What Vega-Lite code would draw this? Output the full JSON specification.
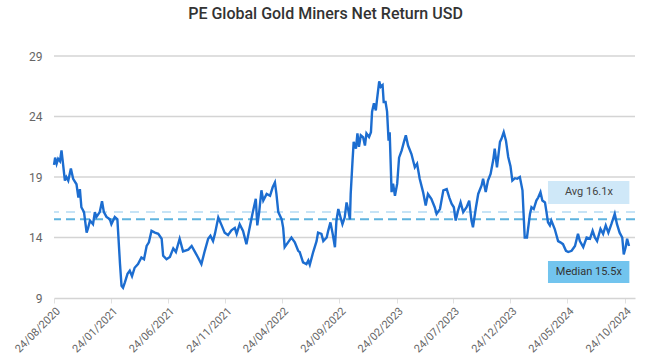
{
  "$schema": "https://vega.github.io/schema/vega-lite/v6.json",
  "width": 581,
  "height": 242,
  "autosize": "none",
  "padding": {"left": 54, "top": 56, "right": 15, "bottom": 65},
  "title": {"text": "PE Global Gold Miners Net Return USD", "fontSize": 16, "fontWeight": 500, "color": "#333333", "font": "Roboto", "offset": 28, "dx": -19},
  "config": {
    "view": {"stroke": null},
    "font": "Roboto",
    "axisY": {"grid": false, "domain": false, "ticks": false}
  },
  "datasets": {
    "grid": [{"v": 14}, {"v": 19}, {"v": 24}, {"v": 29}],
    "pe": [
      {"date":"2020-08-24","pe":20.0},{"date":"2020-08-27","pe":20.6},{"date":"2020-08-31","pe":20.1},{"date":"2020-09-04","pe":20.5},{"date":"2020-09-09","pe":20.3},{"date":"2020-09-13","pe":21.2},{"date":"2020-09-17","pe":20.1},{"date":"2020-09-22","pe":18.7},{"date":"2020-09-26","pe":19.0},{"date":"2020-10-01","pe":18.7},{"date":"2020-10-08","pe":19.7},{"date":"2020-10-14","pe":18.85},{"date":"2020-10-23","pe":18.4},{"date":"2020-10-28","pe":17.3},{"date":"2020-11-01","pe":18.0},{"date":"2020-11-05","pe":16.5},{"date":"2020-11-12","pe":16.1},{"date":"2020-11-19","pe":14.4},{"date":"2020-11-23","pe":14.8},{"date":"2020-11-28","pe":15.4},{"date":"2020-12-06","pe":15.1},{"date":"2020-12-11","pe":16.1},{"date":"2020-12-15","pe":15.7},{"date":"2020-12-24","pe":16.1},{"date":"2020-12-30","pe":17.0},
      {"date":"2021-01-04","pe":16.1},{"date":"2021-01-11","pe":15.7},{"date":"2021-01-20","pe":15.5},{"date":"2021-01-24","pe":15.1},{"date":"2021-02-02","pe":15.7},{"date":"2021-02-09","pe":15.5},{"date":"2021-02-16","pe":11.8},{"date":"2021-02-20","pe":10.0},{"date":"2021-02-24","pe":9.85},{"date":"2021-03-01","pe":10.3},{"date":"2021-03-08","pe":11.0},{"date":"2021-03-14","pe":11.25},{"date":"2021-03-20","pe":10.8},{"date":"2021-03-27","pe":11.5},{"date":"2021-04-05","pe":11.8},{"date":"2021-04-14","pe":12.35},{"date":"2021-04-21","pe":12.2},{"date":"2021-04-28","pe":13.3},{"date":"2021-05-04","pe":13.6},{"date":"2021-05-11","pe":14.55},{"date":"2021-05-20","pe":14.4},{"date":"2021-05-29","pe":14.3},{"date":"2021-06-07","pe":13.9},{"date":"2021-06-11","pe":12.5},{"date":"2021-06-20","pe":12.2},{"date":"2021-06-29","pe":12.4},{"date":"2021-07-08","pe":13.1},{"date":"2021-07-15","pe":12.8},{"date":"2021-07-25","pe":13.9},{"date":"2021-08-03","pe":12.85},{"date":"2021-08-17","pe":13.0},{"date":"2021-08-26","pe":13.3},{"date":"2021-09-03","pe":12.85},{"date":"2021-09-12","pe":12.35},{"date":"2021-09-21","pe":11.8},{"date":"2021-09-30","pe":12.9},{"date":"2021-10-09","pe":13.9},{"date":"2021-10-15","pe":14.15},{"date":"2021-10-22","pe":13.7},{"date":"2021-10-27","pe":14.3},{"date":"2021-11-05","pe":15.65},{"date":"2021-11-14","pe":15.0},{"date":"2021-11-22","pe":14.4},{"date":"2021-12-01","pe":14.2},{"date":"2021-12-10","pe":14.6},{"date":"2021-12-19","pe":14.8},{"date":"2021-12-24","pe":14.3},
      {"date":"2022-01-01","pe":15.1},{"date":"2022-01-10","pe":14.55},{"date":"2022-01-19","pe":13.45},{"date":"2022-01-26","pe":14.55},{"date":"2022-02-04","pe":15.95},{"date":"2022-02-13","pe":17.2},{"date":"2022-02-17","pe":15.0},{"date":"2022-02-22","pe":16.1},{"date":"2022-02-28","pe":17.9},{"date":"2022-03-05","pe":17.05},{"date":"2022-03-14","pe":17.6},{"date":"2022-03-23","pe":17.45},{"date":"2022-03-30","pe":18.15},{"date":"2022-04-05","pe":18.55},{"date":"2022-04-09","pe":17.6},{"date":"2022-04-14","pe":16.1},{"date":"2022-04-23","pe":15.5},{"date":"2022-04-27","pe":14.8},{"date":"2022-05-01","pe":13.2},{"date":"2022-05-10","pe":13.6},{"date":"2022-05-19","pe":14.0},{"date":"2022-05-28","pe":13.6},{"date":"2022-06-06","pe":12.9},{"date":"2022-06-10","pe":12.8},{"date":"2022-06-19","pe":11.95},{"date":"2022-06-28","pe":11.8},{"date":"2022-07-03","pe":12.1},{"date":"2022-07-07","pe":11.75},{"date":"2022-07-16","pe":12.8},{"date":"2022-07-25","pe":13.7},{"date":"2022-07-29","pe":14.4},{"date":"2022-08-07","pe":14.3},{"date":"2022-08-12","pe":13.7},{"date":"2022-08-21","pe":14.0},{"date":"2022-08-25","pe":14.55},{"date":"2022-08-31","pe":15.25},{"date":"2022-09-06","pe":14.3},{"date":"2022-09-12","pe":13.2},{"date":"2022-09-16","pe":15.4},{"date":"2022-09-21","pe":16.35},{"date":"2022-09-27","pe":15.65},{"date":"2022-10-02","pe":15.1},{"date":"2022-10-08","pe":15.65},{"date":"2022-10-13","pe":16.9},{"date":"2022-10-17","pe":16.35},{"date":"2022-10-22","pe":15.5},{"date":"2022-10-24","pe":17.6},{"date":"2022-10-29","pe":20.4},{"date":"2022-11-01","pe":21.9},{"date":"2022-11-07","pe":21.35},{"date":"2022-11-11","pe":22.6},{"date":"2022-11-15","pe":21.5},{"date":"2022-11-20","pe":22.45},{"date":"2022-11-26","pe":22.3},{"date":"2022-12-01","pe":21.6},{"date":"2022-12-05","pe":22.6},{"date":"2022-12-12","pe":22.3},{"date":"2022-12-17","pe":22.7},{"date":"2022-12-20","pe":24.4},{"date":"2022-12-25","pe":25.1},{"date":"2022-12-30","pe":24.5},
      {"date":"2023-01-02","pe":25.35},{"date":"2023-01-08","pe":26.9},{"date":"2023-01-12","pe":26.45},{"date":"2023-01-17","pe":26.6},{"date":"2023-01-20","pe":25.2},{"date":"2023-01-25","pe":25.2},{"date":"2023-01-29","pe":24.4},{"date":"2023-02-02","pe":22.0},{"date":"2023-02-05","pe":22.7},{"date":"2023-02-10","pe":17.75},{"date":"2023-02-14","pe":18.45},{"date":"2023-02-19","pe":17.45},{"date":"2023-02-25","pe":18.45},{"date":"2023-03-02","pe":20.6},{"date":"2023-03-09","pe":21.2},{"date":"2023-03-15","pe":21.9},{"date":"2023-03-20","pe":22.45},{"date":"2023-03-26","pe":21.6},{"date":"2023-04-04","pe":20.9},{"date":"2023-04-13","pe":19.8},{"date":"2023-04-19","pe":20.1},{"date":"2023-04-26","pe":18.85},{"date":"2023-05-05","pe":17.75},{"date":"2023-05-12","pe":16.65},{"date":"2023-05-18","pe":17.6},{"date":"2023-05-27","pe":17.2},{"date":"2023-06-05","pe":16.5},{"date":"2023-06-10","pe":15.95},{"date":"2023-06-19","pe":16.35},{"date":"2023-06-28","pe":17.9},{"date":"2023-07-07","pe":18.0},{"date":"2023-07-14","pe":17.3},{"date":"2023-07-20","pe":16.8},{"date":"2023-07-26","pe":16.5},{"date":"2023-07-31","pe":15.4},{"date":"2023-08-06","pe":16.2},{"date":"2023-08-13","pe":16.9},{"date":"2023-08-20","pe":16.1},{"date":"2023-08-29","pe":16.5},{"date":"2023-09-05","pe":17.05},{"date":"2023-09-11","pe":15.4},{"date":"2023-09-15","pe":14.85},{"date":"2023-09-23","pe":16.5},{"date":"2023-09-29","pe":17.6},{"date":"2023-10-08","pe":18.3},{"date":"2023-10-12","pe":18.85},{"date":"2023-10-19","pe":17.75},{"date":"2023-10-25","pe":18.7},{"date":"2023-11-01","pe":19.25},{"date":"2023-11-08","pe":20.4},{"date":"2023-11-12","pe":21.35},{"date":"2023-11-18","pe":19.8},{"date":"2023-11-26","pe":21.9},{"date":"2023-11-30","pe":22.15},{"date":"2023-12-06","pe":22.7},{"date":"2023-12-12","pe":22.0},{"date":"2023-12-18","pe":20.65},{"date":"2023-12-24","pe":19.9},{"date":"2023-12-29","pe":18.7},
      {"date":"2024-01-05","pe":18.9},{"date":"2024-01-11","pe":18.85},{"date":"2024-01-18","pe":19.0},{"date":"2024-01-25","pe":17.9},{"date":"2024-01-31","pe":14.0},{"date":"2024-02-06","pe":14.0},{"date":"2024-02-14","pe":15.95},{"date":"2024-02-18","pe":16.5},{"date":"2024-02-24","pe":16.35},{"date":"2024-03-02","pe":17.05},{"date":"2024-03-07","pe":17.3},{"date":"2024-03-13","pe":17.75},{"date":"2024-03-18","pe":17.05},{"date":"2024-03-25","pe":16.9},{"date":"2024-03-29","pe":16.1},{"date":"2024-04-02","pe":15.25},{"date":"2024-04-07","pe":15.0},{"date":"2024-04-11","pe":15.4},{"date":"2024-04-20","pe":14.7},{"date":"2024-04-29","pe":13.7},{"date":"2024-05-05","pe":13.6},{"date":"2024-05-12","pe":13.45},{"date":"2024-05-20","pe":12.9},{"date":"2024-05-26","pe":12.8},{"date":"2024-06-04","pe":12.9},{"date":"2024-06-13","pe":13.3},{"date":"2024-06-21","pe":14.3},{"date":"2024-06-26","pe":13.7},{"date":"2024-07-05","pe":13.2},{"date":"2024-07-14","pe":14.0},{"date":"2024-07-23","pe":13.9},{"date":"2024-07-30","pe":14.55},{"date":"2024-08-05","pe":14.0},{"date":"2024-08-11","pe":13.7},{"date":"2024-08-20","pe":14.7},{"date":"2024-08-27","pe":14.3},{"date":"2024-09-03","pe":15.0},{"date":"2024-09-10","pe":14.4},{"date":"2024-09-18","pe":15.1},{"date":"2024-09-27","pe":15.95},{"date":"2024-10-03","pe":15.1},{"date":"2024-10-10","pe":14.4},{"date":"2024-10-17","pe":14.0},{"date":"2024-10-21","pe":12.6},{"date":"2024-10-26","pe":13.2},{"date":"2024-10-30","pe":13.9},{"date":"2024-11-04","pe":13.3}
    ]
  },
  "layer": [
    {
      "data": {"name": "grid"},
      "mark": {"type": "rule", "color": "#d4d4d4", "strokeWidth": 1.3},
      "encoding": {
        "y": {"field": "v", "type": "quantitative", "title": null, "scale": {"domain": [9, 29], "nice": false},
              "axis": {"values": [9, 14, 19, 24, 29], "grid": false, "labelPadding": 12, "labelFontSize": 12, "labelColor": "#666666"}}
      }
    },
    {
      "data": {"values": [{}]},
      "mark": {"type": "rule", "color": "#c6e3f6", "strokeWidth": 2, "strokeDash": [9, 7]},
      "encoding": {"y": {"datum": 16.1, "type": "quantitative"}}
    },
    {
      "data": {"values": [{}]},
      "mark": {"type": "rule", "color": "#5eb3de", "strokeWidth": 2, "strokeDash": [9, 5]},
      "encoding": {"y": {"datum": 15.5, "type": "quantitative"}}
    },
    {
      "data": {"name": "pe"},
      "mark": {"type": "line", "color": "#1c6dd0", "strokeWidth": 2.4, "interpolate": "linear"},
      "encoding": {
        "x": {
          "field": "date", "type": "temporal", "title": null,
          "scale": {"type": "utc", "domain": [{"year": 2020, "month": 8, "date": 24, "utc": true}, {"year": 2024, "month": 11, "date": 20, "utc": true}]},
          "axis": {
            "values": [
              {"year": 2020, "month": 8, "date": 24, "utc": true},
              {"year": 2021, "month": 1, "date": 24, "utc": true},
              {"year": 2021, "month": 6, "date": 24, "utc": true},
              {"year": 2021, "month": 11, "date": 24, "utc": true},
              {"year": 2022, "month": 4, "date": 24, "utc": true},
              {"year": 2022, "month": 9, "date": 24, "utc": true},
              {"year": 2023, "month": 2, "date": 24, "utc": true},
              {"year": 2023, "month": 7, "date": 24, "utc": true},
              {"year": 2023, "month": 12, "date": 24, "utc": true},
              {"year": 2024, "month": 5, "date": 24, "utc": true},
              {"year": 2024, "month": 10, "date": 24, "utc": true}
            ],
            "format": "%d/%m/%Y", "labelAngle": -45, "labelFontSize": 11, "labelColor": "#666666",
            "grid": false, "domainColor": "#d4d4d4", "domainWidth": 1.3, "tickColor": "#e0e0e0", "tickSize": 5, "labelPadding": 2
          }
        },
        "y": {"field": "pe", "type": "quantitative", "title": null}
      }
    },
    {
      "data": {"values": [{}]},
      "mark": {"type": "rect", "color": "#cfe8f8"},
      "encoding": {
        "x": {"datum": {"year": 2024, "month": 4, "date": 2, "utc": true}, "type": "temporal"},
        "x2": {"datum": {"year": 2024, "month": 11, "date": 5, "utc": true}},
        "y": {"datum": 16.77, "type": "quantitative"},
        "y2": {"datum": 18.67}
      }
    },
    {
      "data": {"values": [{}]},
      "mark": {"type": "rect", "color": "#72c4ee"},
      "encoding": {
        "x": {"datum": {"year": 2024, "month": 4, "date": 2, "utc": true}, "type": "temporal"},
        "x2": {"datum": {"year": 2024, "month": 11, "date": 5, "utc": true}},
        "y": {"datum": 10.24, "type": "quantitative"},
        "y2": {"datum": 12.06}
      }
    },
    {
      "data": {"values": [{}]},
      "mark": {"type": "text", "color": "#444444", "fontSize": 11, "align": "center", "baseline": "middle"},
      "encoding": {
        "x": {"datum": {"year": 2024, "month": 7, "date": 20, "utc": true}, "type": "temporal"},
        "y": {"datum": 17.72, "type": "quantitative"},
        "text": {"value": "Avg 16.1x"}
      }
    },
    {
      "data": {"values": [{}]},
      "mark": {"type": "text", "color": "#333333", "fontSize": 11, "align": "center", "baseline": "middle"},
      "encoding": {
        "x": {"datum": {"year": 2024, "month": 7, "date": 20, "utc": true}, "type": "temporal"},
        "y": {"datum": 11.15, "type": "quantitative"},
        "text": {"value": "Median 15.5x"}
      }
    }
  ]
}
